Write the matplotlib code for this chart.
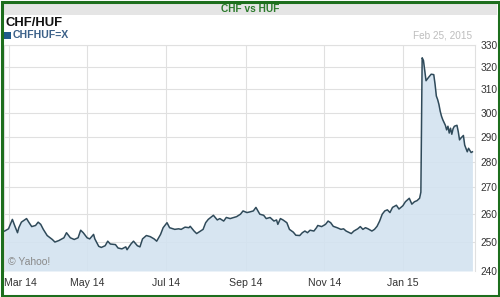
import matplotlib.pyplot as plt
import matplotlib.dates as mdates
import matplotlib.ticker as mticker
import matplotlib.transforms as mtransforms
from matplotlib.patches import Rectangle
import numpy as np

# days since 2014-02-25 and CHF/HUF close
start = '2014-02-25'
days = [1, 4, 7, 9, 11, 12, 14, 18, 20, 22, 25, 27, 29, 31, 34, 38, 40, 43, 47, 49,
        52, 55, 58, 60, 62, 65, 67, 70, 71, 74, 76, 79, 81, 83, 87, 89, 92, 95, 96, 99,
        101, 104, 106, 108, 111, 114, 117, 119, 122, 124, 127, 129, 133, 136, 138, 141,
        144, 145, 148, 150, 153, 155, 157, 159, 163, 166, 168, 171, 173, 176, 179, 181,
        184, 186, 189, 191, 194, 196, 199, 202, 204, 207, 210, 212, 213, 215, 217, 220,
        222, 225, 227, 230, 232, 234, 236, 238, 241, 243, 244, 247, 250, 252, 254, 256,
        259, 262, 264, 266, 270, 272, 275, 277, 279, 281, 283, 286, 288, 290, 292, 294,
        296, 298, 300, 302, 305, 307, 310, 312, 315, 317, 319, 321, 323, 324,
        325, 326, 327, 328, 330, 332, 334, 335, 336, 337, 338, 339, 340, 341, 343, 344,
        345, 346, 347, 348, 349, 350, 352, 353, 354, 355, 357, 358, 360, 361, 363, 364]
rate = [253.9, 254.7, 258.1, 255.6, 253.3, 255.1, 257.1, 258.4, 256.9, 255.5, 255.9, 257.1,
        256.3, 254.5, 252.3, 250.9, 250.0, 250.5, 251.5, 253.3, 251.5, 250.9, 251.5, 254.2,
        253.3, 251.5, 251.1, 252.7, 251.1, 248.5, 248.1, 248.7, 250.3, 249.3, 249.1, 247.9,
        247.6, 248.3, 247.3, 249.3, 250.3, 248.7, 248.3, 251.1, 252.3, 251.9, 251.1, 250.3,
        252.7, 255.1, 256.9, 255.1, 254.5, 254.7, 254.5, 255.3, 255.1, 255.6, 253.9, 253.0,
        253.9, 254.5, 256.9, 258.1, 259.6, 257.9, 258.4, 257.5, 258.8, 258.4, 258.8, 259.1,
        260.0, 261.2, 260.6, 260.8, 261.2, 262.5, 260.0, 259.6, 258.4, 258.8, 257.5, 257.9,
        256.3, 258.4, 257.9, 256.9, 254.5, 253.5, 252.4, 252.3, 253.3, 253.9, 253.3, 254.2,
        253.9, 255.1, 255.9, 255.5, 256.3, 257.5, 256.9, 255.6, 255.1, 254.5, 254.7, 253.9,
        253.0, 253.9, 254.7, 255.5, 254.5, 255.1, 254.7, 253.9, 254.5, 255.6, 257.5, 260.0,
        261.2, 261.6, 260.6, 262.5, 263.3, 261.9, 263.1, 264.6, 265.9, 263.7, 264.6, 265.0,
        265.9, 268.2,
        324.1, 322.9, 318.3, 313.8, 315.3, 316.7, 316.5, 312.3, 307.1, 305.6, 303.5, 300.6,
        298.5, 297.0, 294.7, 292.8, 294.3, 291.5, 293.5, 291.0, 293.3, 294.3, 294.7, 292.1,
        288.7, 289.4, 290.5, 286.6, 283.9, 285.3, 283.6, 283.9]

month_ticks = ['2014-03-01', '2014-05-01', '2014-07-01', '2014-09-01', '2014-11-01', '2015-01-01']
month_labels = ['Mar 14', 'May 14', 'Jul 14', 'Sep 14', 'Nov 14', 'Jan 15']
y_ticks = [240, 250, 260, 270, 280, 290, 300, 310, 320, 330]

plt.rcParams['font.family'] = ['Liberation Sans', 'DejaVu Sans']

W, H = 500, 297
def fx(x):
    return x / W
def fy(y):
    return 1 - y / H

x0 = mdates.date2num(np.datetime64(start))
xs = x0 + np.array(days)

fig = plt.figure(figsize=(5, 2.97), dpi=100)
ax = fig.add_axes([fx(4), fy(271), (475 - 4) / W, (271 - 45) / H])
ax.set_yscale('log')
ax.fill_between(xs, rate, 240, color='#d3e3f0', alpha=0.9, lw=0, zorder=1)
ax.plot(xs, rate, color='#2f4a5a', lw=1.1, zorder=3)

ax.set_ylim(240, 330)
ax.set_xlim(x0 + 0.5, x0 + 366)

ax.yaxis.tick_right()
ax.yaxis.set_major_locator(mticker.FixedLocator(y_ticks))
ax.yaxis.set_minor_locator(mticker.NullLocator())
ax.yaxis.set_major_formatter(mticker.FixedFormatter([str(v) for v in y_ticks]))
ax.set_xticks([mdates.date2num(np.datetime64(m)) for m in month_ticks], labels=month_labels)
ax.tick_params(axis='both', length=0, labelcolor='#333333')
ax.tick_params(axis='y', pad=4, labelsize=7.3)
ax.tick_params(axis='x', pad=5, labelsize=7.6)
first = ax.get_xticklabels()[0]
first.set_horizontalalignment('left')
first.set_transform(first.get_transform() +
                    mtransforms.ScaledTranslation(-5 / 100, 0, fig.dpi_scale_trans))

ax.grid(True, color='#e0e0e0', lw=0.8, zorder=0)
ax.set_axisbelow(True)
for s in ax.spines.values():
    s.set_color('#e0e0e0')
    s.set_linewidth(0.8)
ax.spines['bottom'].set_visible(False)

# header
fig.patches.append(Rectangle((fx(3), fy(15)), 494 / W, 13 / H, transform=fig.transFigure,
                             facecolor='#e5e5e5', edgecolor='none', zorder=0))
fig.text(fx(250), fy(8.5), 'CHF vs HUF', ha='center', va='center', fontsize=7.3,
         fontweight='bold', color='#2b7a2b')
fig.text(fx(5), fy(23), 'CHF/HUF', ha='left', va='center', fontsize=9.4,
         fontweight='bold', color='#111111')
fig.patches.append(Rectangle((fx(4), fy(38.5)), 7 / W, 6 / H, transform=fig.transFigure,
                             facecolor='#1f5a8a', edgecolor='none'))
fig.text(fx(12.5), fy(35.5), 'CHFHUF=X', ha='left', va='center', fontsize=7.6,
         fontweight='bold', color='#3b6088')
fig.text(fx(472), fy(35.5), 'Feb 25, 2015', ha='right', va='center', fontsize=7.2,
         color='#bdbdbd')
fig.text(fx(8), fy(262), '\u00a9 Yahoo!', ha='left', va='center', fontsize=7.5,
         color='#8a8a8a')

# green frame
fig.patches.append(Rectangle((fx(1.5), fy(295.5)), 497 / W, 294 / H, transform=fig.transFigure,
                             fill=False, edgecolor='#1d6e1d', lw=2.2))

fig.savefig('out.png', dpi=100)
